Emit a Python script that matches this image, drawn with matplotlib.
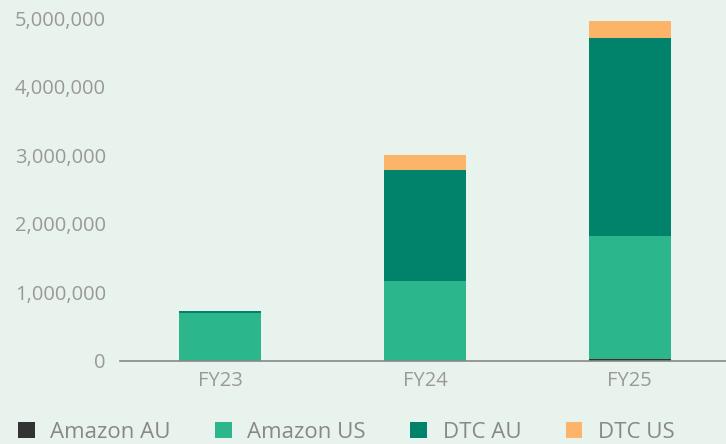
import matplotlib.pyplot as plt
import numpy as np
from matplotlib.ticker import FuncFormatter

years = ['FY23', 'FY24', 'FY25']
series = ['Amazon AU', 'Amazon US', 'DTC AU', 'DTC US']
amazon_au = [0, 0, 30000]
amazon_us = [700000, 1170000, 1800000]
dtc_au = [30000, 1620000, 2890000]
dtc_us = [0, 220000, 240000]

colors = ['#333333', '#2bb78b', '#00826b', '#fbb468']
bg = '#e9f3ee'

plt.rcParams['font.family'] = ['Open Sans', 'DejaVu Sans']

fig = plt.figure(figsize=(7.26, 4.44), dpi=100, facecolor=bg)
ax = fig.add_axes([0.165, 0.187, 0.835, 0.81])
ax.set_facecolor(bg)

x = np.arange(len(years))
bottom = np.zeros(len(years))
for name, vals, c in zip(series, [amazon_au, amazon_us, dtc_au, dtc_us], colors):
    ax.bar(x, vals, width=0.4, bottom=bottom, color=c, label=name)
    bottom += np.array(vals)

ax.set_xlim(-0.49, 2.47)
ax.set_ylim(0, 5250000)
ax.set_yticks(np.arange(0, 5000001, 1000000))
ax.yaxis.set_major_formatter(FuncFormatter(lambda v, p: f'{int(v):,}'))
ax.set_xticks(x)
ax.set_xticklabels(years)
ax.tick_params(axis='both', length=0, colors='#999999', labelsize=14.5)
ax.tick_params(axis='y', pad=10)
ax.tick_params(axis='x', pad=7)
for s in ['top', 'right', 'left']:
    ax.spines[s].set_visible(False)
ax.spines['bottom'].set_color('#888888')
ax.spines['bottom'].set_linewidth(1.2)

handles, labels = ax.get_legend_handles_labels()
leg = fig.legend(handles, labels, loc='center', bbox_to_anchor=(0.477, 0.027), ncol=4,
                 frameon=False, fontsize=16, handlelength=0.75, handleheight=0.75,
                 columnspacing=2.0, handletextpad=0.7)
for t in leg.get_texts():
    t.set_color('#888888')

fig.savefig('out.png', dpi=100, facecolor=bg)
